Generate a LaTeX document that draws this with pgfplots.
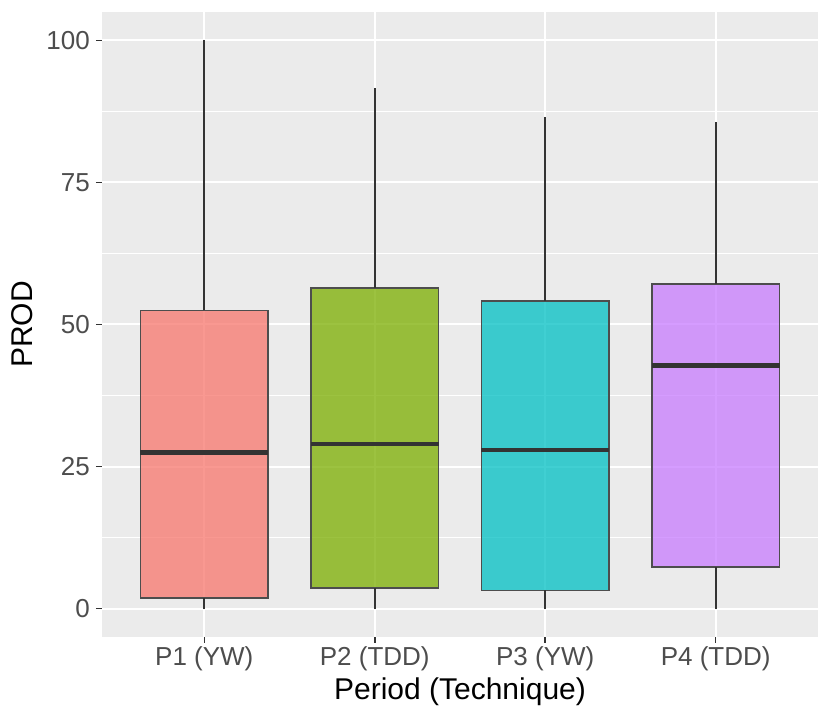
\documentclass[border=0pt]{standalone}
\usepackage{pgfplots}
\pgfplotsset{compat=1.18}
\usepackage{fontspec}
\setmainfont{Liberation Sans}
\definecolor{panel}{HTML}{EBEBEB}
\definecolor{gtwenty}{HTML}{333333}
\definecolor{gthirty}{HTML}{4D4D4D}
\definecolor{cA}{HTML}{F8766D}
\definecolor{cB}{HTML}{7CAE00}
\definecolor{cC}{HTML}{00BFC4}
\definecolor{cD}{HTML}{C77CFF}
\begin{document}
\begin{tikzpicture}
\path[use as bounding box] (-102pt,-82pt) rectangle (728pt,637pt);
\begin{axis}[
  at={(0pt,0pt)}, anchor=south west,
  scale only axis, width=716pt, height=625pt,
  xmin=0.4, xmax=4.6, ymin=-5, ymax=105,
  axis background/.style={fill=panel},
  axis line style={draw=none},
  xtick={1,2,3,4},
  xticklabels={P1 (YW),P2 (TDD),P3 (YW),P4 (TDD)},
  ytick={0,25,50,75,100},
  minor ytick={12.5,37.5,62.5,87.5},
  grid=both,
  major grid style={white, line width=2pt},
  minor grid style={white, line width=1pt},
  tick align=outside,
  major tick length=6pt,
  minor tick style={draw=none},
  tick style={draw=gtwenty, line width=1.5pt},
  tick pos=left,
  /pgf/number format/assume math mode=true,
  ticklabel style={font=\fontsize{26}{30}\selectfont, text=gthirty},
  xticklabel style={anchor=base, inner sep=0pt, yshift=-23pt},
  yticklabel style={anchor=east, inner sep=0pt, xshift=-6pt},
  xlabel={Period (Technique)},
  ylabel={PROD},
  label style={font=\fontsize{30}{34}\selectfont, text=black},
  xlabel style={at={(axis description cs:0.5,-0.1008)}, anchor=base, inner sep=0pt},
  ylabel style={at={(axis description cs:-0.0964,0.5)}, anchor=base, inner sep=0pt},
  whisk/.style={draw=gtwenty, line width=2pt, forget plot},
  med/.style={draw=gtwenty, line width=4.5pt, forget plot},
  bx/.style={draw=gthirty, line width=1.5pt, fill opacity=0.75, forget plot},
]
% P1 (YW)
\addplot[bx, fill=cA] coordinates {(0.625,1.9) (1.375,1.9) (1.375,52.5) (0.625,52.5)} -- cycle;
\addplot[whisk] coordinates {(1,0) (1,1.9)};
\addplot[whisk] coordinates {(1,52.5) (1,100)};
\addplot[med] coordinates {(0.625,27.5) (1.375,27.5)};
% P2 (TDD)
\addplot[bx, fill=cB] coordinates {(1.625,3.6) (2.375,3.6) (2.375,56.4) (1.625,56.4)} -- cycle;
\addplot[whisk] coordinates {(2,0) (2,3.6)};
\addplot[whisk] coordinates {(2,56.4) (2,91.7)};
\addplot[med] coordinates {(1.625,29.0) (2.375,29.0)};
% P3 (YW)
\addplot[bx, fill=cC] coordinates {(2.625,3.2) (3.375,3.2) (3.375,54.1) (2.625,54.1)} -- cycle;
\addplot[whisk] coordinates {(3,0) (3,3.2)};
\addplot[whisk] coordinates {(3,54.1) (3,86.6)};
\addplot[med] coordinates {(2.625,27.9) (3.375,27.9)};
% P4 (TDD)
\addplot[bx, fill=cD] coordinates {(3.625,7.3) (4.375,7.3) (4.375,57.1) (3.625,57.1)} -- cycle;
\addplot[whisk] coordinates {(4,0) (4,7.3)};
\addplot[whisk] coordinates {(4,57.1) (4,85.7)};
\addplot[med] coordinates {(3.625,42.8) (4.375,42.8)};
\end{axis}
\end{tikzpicture}
\end{document}
